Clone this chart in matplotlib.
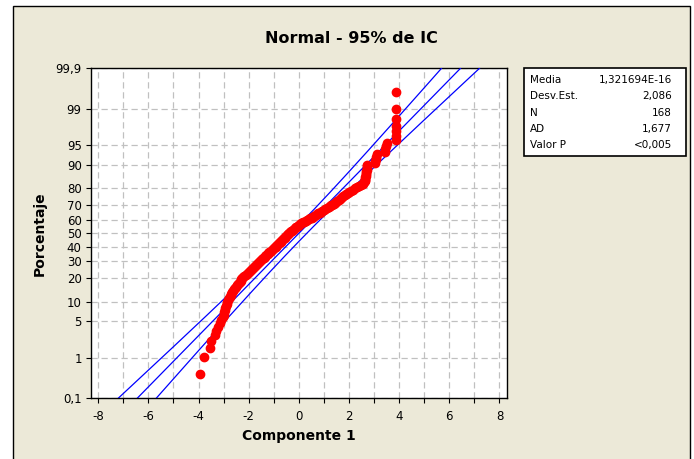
import matplotlib
matplotlib.use('Agg')
import matplotlib.pyplot as plt
from matplotlib.patches import Rectangle
from statistics import NormalDist
import numpy as np

# valores ordenados de Componente 1
comp1 = [-3.93, -3.78, -3.53, -3.50, -3.36, -3.30, -3.22, -3.15, -3.09, -3.03,
         -3.00, -2.97, -2.95, -2.93, -2.90, -2.87, -2.85, -2.82, -2.78, -2.75,
         -2.72, -2.69, -2.65, -2.62, -2.58, -2.55, -2.51, -2.47, -2.44, -2.40,
         -2.36, -2.32, -2.29, -2.25, -2.21, -2.17, -2.12, -2.08, -2.04, -2.00,
         -1.95, -1.91, -1.87, -1.83, -1.79, -1.75, -1.71, -1.67, -1.63, -1.58,
         -1.54, -1.51, -1.47, -1.43, -1.40, -1.36, -1.33, -1.29, -1.25, -1.22,
         -1.18, -1.14, -1.11, -1.07, -1.04, -1.00, -0.97, -0.93, -0.90, -0.87,
         -0.83, -0.80, -0.76, -0.73, -0.70, -0.66, -0.63, -0.60, -0.57, -0.54,
         -0.51, -0.48, -0.45, -0.42, -0.38, -0.35, -0.31, -0.28, -0.24, -0.20,
         -0.17, -0.13, -0.10, -0.05, 0.00, 0.05, 0.09, 0.15, 0.21, 0.27,
         0.33, 0.39, 0.45, 0.51, 0.57, 0.62, 0.67, 0.73, 0.78, 0.83,
         0.89, 0.94, 0.99, 1.06, 1.12, 1.19, 1.24, 1.29, 1.34, 1.39,
         1.44, 1.49, 1.54, 1.59, 1.64, 1.69, 1.73, 1.78, 1.83, 1.88,
         1.94, 2.01, 2.08, 2.15, 2.22, 2.30, 2.38, 2.46, 2.54, 2.60,
         2.62, 2.63, 2.64, 2.65, 2.66, 2.67, 2.68, 2.69, 2.70, 2.71,
         2.72, 2.73, 3.03, 3.05, 3.07, 3.09, 3.11, 3.42, 3.45, 3.47,
         3.50, 3.86, 3.86, 3.87, 3.87, 3.87, 3.88, 3.88]

media = 1.321694e-16
desv = 2.086
n_obs = 168
ad = '1,677'
valor_p = '<0,005'

stat_names = ['Media', 'Desv.Est.', 'N', 'AD', 'Valor P']
stat_values = ['1,321694E-16', '2,086', '168', ad, valor_p]

y_pct = [0.1, 1, 5, 10, 20, 30, 40, 50, 60, 70, 80, 90, 95, 99, 99.9]
y_lbl = ['0,1', '1', '5', '10', '20', '30', '40', '50', '60', '70', '80',
         '90', '95', '99', '99,9']
x_ticks = [-8, -6, -4, -2, 0, 2, 4, 6, 8]

nd = NormalDist()
W, H = 694, 459

fig = plt.figure(figsize=(W / 100, H / 100), dpi=100)
fig.patch.set_facecolor('white')
fig.patches.append(Rectangle((13 / W, -0.01), (690 - 13) / W, 1 - 6 / H + 0.01,
                             transform=fig.transFigure, facecolor='#ECE9D8',
                             edgecolor='black', linewidth=1, zorder=-10))

ax = fig.add_axes([90.7 / W, 1 - 398.3 / H, (507 - 90.7) / W, (398.3 - 68.3) / H])
ax.set_facecolor('white')

# puntos
x = np.sort(np.array(comp1))
pos = (np.arange(1, n_obs + 1) - 0.3) / (n_obs + 0.4)
zp = np.array([nd.inv_cdf(p) for p in pos])

# recta ajustada e intervalo de confianza del 95%
zlo, zhi = nd.inv_cdf(0.001), nd.inv_cdf(0.999)
zz = np.linspace(zlo, zhi, 200)
fit = media + desv * zz
half = 1.96 * desv * np.sqrt(1 / n_obs + zz ** 2 / (2 * n_obs))
for line in (fit, fit - half, fit + half):
    ax.plot(line, zz, color='#0000FF', lw=0.9, zorder=3)

ax.plot(x, zp, 'o', color='#FF0000', ms=6, mec='#FF0000', zorder=4)

ax.set_xlim(-8.3, 8.3)
ax.set_ylim(zlo, zhi)
ax.set_xticks(x_ticks)
ax.set_xticks(range(-7, 8, 2), minor=True)
ax.set_xticklabels([str(t) for t in x_ticks])
ax.set_yticks([nd.inv_cdf(p / 100) for p in y_pct])
ax.set_yticklabels(y_lbl)

grid_kw = dict(color='#C0C0C0', linestyle=(0, (5, 3)), linewidth=0.9)
ax.grid(True, which='both', axis='x', **grid_kw)
ax.grid(True, which='major', axis='y', **grid_kw)
ax.set_axisbelow(True)

ax.tick_params(axis='both', which='both', direction='out', length=3.5, width=0.8,
               colors='black', labelsize=8.5)
ax.tick_params(axis='x', pad=5)
ax.tick_params(axis='y', pad=3)
for s in ax.spines.values():
    s.set_linewidth(1)
    s.set_color('black')

ax.set_xlabel('Componente 1', fontsize=10, fontweight='bold', labelpad=4)
ax.set_ylabel('Porcentaje', fontsize=10, fontweight='bold', labelpad=6)

fig.text(351.5 / W, 1 - 38.3 / H, 'Normal - 95% de IC', fontsize=11.5,
         fontweight='bold', ha='center', va='center')

# cuadro de estadisticos
bx0, bx1, by0, by1 = 523.5, 686, 68.3, 155.5
fig.patches.append(Rectangle((bx0 / W, 1 - by1 / H), (bx1 - bx0) / W, (by1 - by0) / H,
                             transform=fig.transFigure, facecolor='white',
                             edgecolor='black', linewidth=1.2, zorder=2))
for i, (nm, val) in enumerate(zip(stat_names, stat_values)):
    yy = 1 - (80 + i * 16.3) / H
    fig.text(530 / W, yy, nm, fontsize=7.5, ha='left', va='center')
    fig.text(672 / W, yy, val, fontsize=7.5, ha='right', va='center')

fig.savefig('out.png', dpi=100)
